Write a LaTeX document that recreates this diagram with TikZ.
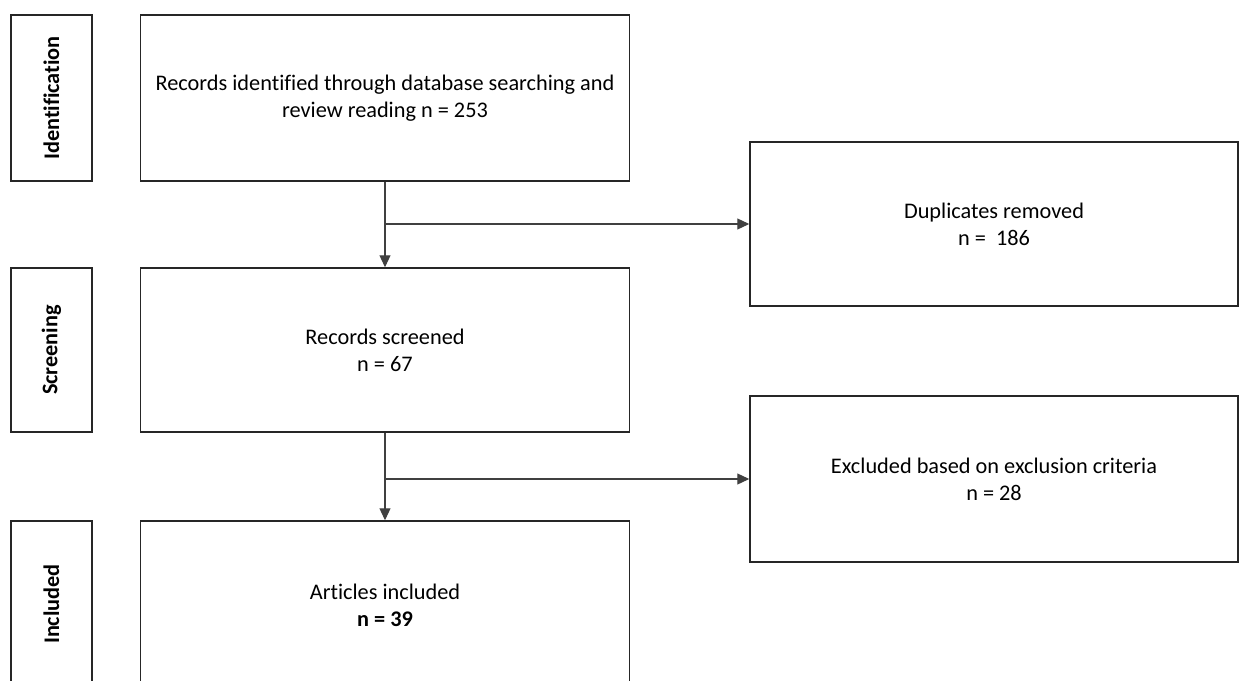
\documentclass[tikz,border=0pt]{standalone}
\usepackage{fontspec}
\setmainfont[Ligatures=NoCommon]{Carlito}
\usetikzlibrary{arrows.meta}
\begin{document}
\begin{tikzpicture}[x=1pt,y=-1pt,
  box/.style={draw=black!85,line width=1.5pt,rectangle,inner sep=0pt,align=center,
    font=\fontsize{22.3}{27}\selectfont},
  lab/.style={draw=black!85,line width=1.5pt,rectangle,inner sep=0pt,
    minimum width=81pt},
  labtext/.style={rotate=90,font=\fontsize{22.3}{26}\selectfont\bfseries},
  arr/.style={draw=black!75,line width=1.2pt,-{Triangle[length=12pt,width=11pt]}}]
\useasboundingbox (0,0) rectangle (1239,680);
\clip (0,0) rectangle (1239,680);
\fill[white] (0,0) rectangle (1239,680);
% stage labels
\node[lab,minimum height=166pt] (lab1) at (51.5,98) {};
\node[labtext] (t1) at (lab1.center) {Identification};
\node[lab,minimum height=164pt] (lab2) at (51.5,350) {};
\node[labtext] (t2) at (lab2.center) {Screening};
\node[lab,minimum height=169pt] (lab3) at (51.5,605.5) {};
\node[labtext] (t3) at (51.5,604) {Included};
% main boxes
\node[box,minimum width=489pt,minimum height=166pt] (main1) at (385,98)
  {Records identified through database searching and\\review reading n = 253};
\node[box,minimum width=489pt,minimum height=164pt] (main2) at (385,350)
  {Records screened\\n = 67};
\node[box,minimum width=489pt,minimum height=169pt] (main3) at (385,605.5)
  {Articles included\\\textbf{n = 39}};
% right boxes
\node[box,minimum width=488pt,minimum height=164pt] (right1) at (994,224)
  {Duplicates removed\\n =~~186};
\node[box,minimum width=488pt,minimum height=166pt] (right2) at (994,479)
  {Excluded based on exclusion criteria\\n = 28};
% connectors
\draw[arr] (main1.south) -- (main2.north);
\draw[arr] (main1.south |- right1.west) -- (right1.west);
\draw[arr] (main2.south) -- (main3.north);
\draw[arr] (main2.south |- right2.west) -- (right2.west);
\end{tikzpicture}
\end{document}
